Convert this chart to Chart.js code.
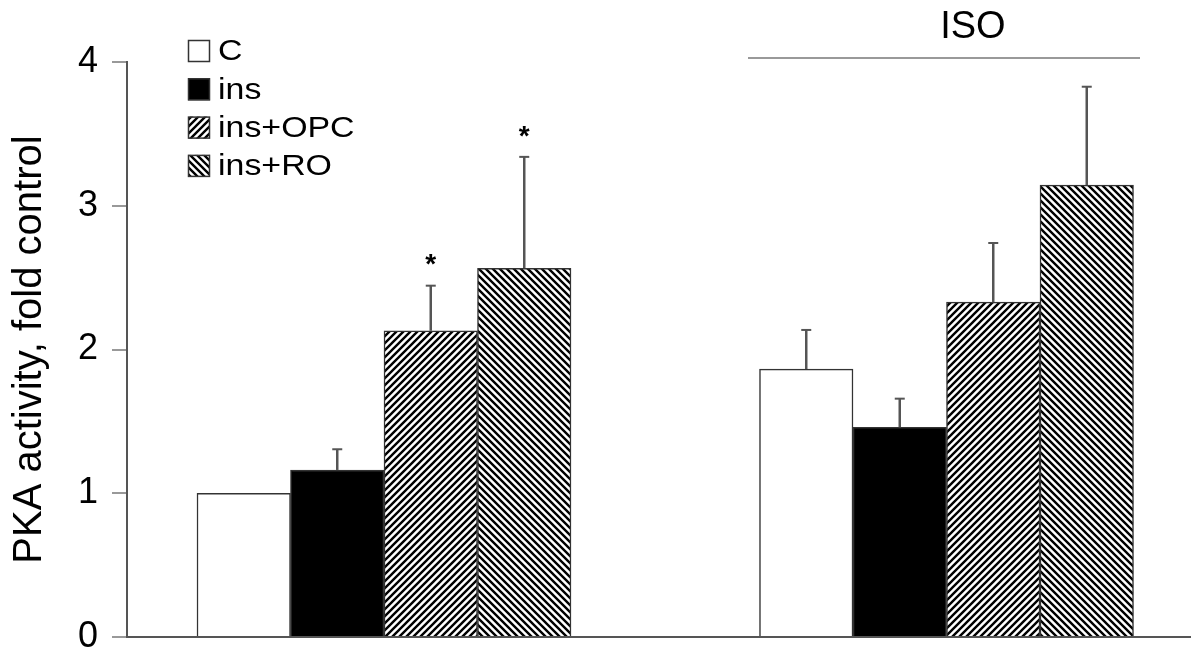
<!DOCTYPE html>
<html>
<head>
<meta charset="utf-8">
<script src="https://cdn.jsdelivr.net/npm/chart.js@4.4.1/dist/chart.umd.min.js"></script>
<style>
  html, body { margin: 0; padding: 0; background: #fff; }
  #wrap { width: 1192px; height: 662px; position: relative; }
</style>
</head>
<body>
<div id="wrap"><canvas id="pka"></canvas></div>
<script>
// datos
const grupos = ['control', 'ISO'];
const posGrupos = [1, 2];
const series = ['C', 'ins', 'ins+OPC', 'ins+RO'];
const valoresC = [1.0, 1.864];
const valoresIns = [1.162, 1.459];
const valoresOPC = [2.13, 2.33];
const valoresRO = [2.565, 3.144];
const errC = [0, 0.272];
const errIns = [0.144, 0.199];
const errOPC = [0.314, 0.411];
const errRO = [0.775, 0.684];
const sigOPC = [true, false];
const sigRO = [true, false];
const ticksY = [0, 1, 2, 3, 4];

const FUENTE = '"Liberation Sans", Arial, sans-serif';
Chart.defaults.font.family = FUENTE;

// patrones rayados
const hacerRayas = (dir) => {
  const p = 7;
  const c = document.createElement('canvas');
  c.width = p; c.height = p;
  const g = c.getContext('2d');
  g.fillStyle = '#fff';
  g.fillRect(0, 0, p, p);
  g.strokeStyle = '#000';
  g.lineWidth = 2.4;
  g.beginPath();
  if (dir === '/') {
    g.moveTo(0, p); g.lineTo(p, 0);
    g.moveTo(-1, 1); g.lineTo(1, -1);
    g.moveTo(p - 1, p + 1); g.lineTo(p + 1, p - 1);
  } else {
    g.moveTo(0, 0); g.lineTo(p, p);
    g.moveTo(-1, p - 1); g.lineTo(1, p + 1);
    g.moveTo(p - 1, -1); g.lineTo(p + 1, 1);
  }
  g.stroke();
  return g.createPattern(c, 'repeat');
};
const rayaOPC = hacerRayas('/');
const rayaRO = hacerRayas('\\');

const armar = (vals) => vals.map((v, i) => ({ x: posGrupos[i], y: v }));

const datasets = [
  { label: series[0], data: armar(valoresC), backgroundColor: '#fff', err: errC, sig: [false, false] },
  { label: series[1], data: armar(valoresIns), backgroundColor: '#000', err: errIns, sig: [false, false] },
  { label: series[2], data: armar(valoresOPC), backgroundColor: rayaOPC, err: errOPC, sig: sigOPC },
  { label: series[3], data: armar(valoresRO), backgroundColor: rayaRO, err: errRO, sig: sigRO }
].map((d) => Object.assign(d, {
  borderColor: '#333',
  borderWidth: 1.5,
  barThickness: 93.5
}));

// barras de error (solo hacia arriba) y asteriscos
const errorBars = {
  id: 'errorBars',
  afterDatasetsDraw(chart) {
    const ctx = chart.ctx;
    const y = chart.scales.y;
    ctx.save();
    chart.data.datasets.forEach((ds, i) => {
      const meta = chart.getDatasetMeta(i);
      meta.data.forEach((bar, j) => {
        const v = ds.data[j].y;
        const e = ds.err[j];
        const top = y.getPixelForValue(v + e);
        if (e > 0) {
          ctx.strokeStyle = '#555';
          ctx.lineWidth = 2.5;
          ctx.beginPath();
          ctx.moveTo(bar.x, y.getPixelForValue(v));
          ctx.lineTo(bar.x, top);
          ctx.stroke();
          ctx.lineWidth = 2;
          ctx.beginPath();
          ctx.moveTo(bar.x - 5, top);
          ctx.lineTo(bar.x + 5, top);
          ctx.stroke();
        }
        if (ds.sig[j]) {
          ctx.fillStyle = '#000';
          ctx.font = 'bold 28px ' + FUENTE;
          ctx.textAlign = 'center';
          ctx.textBaseline = 'middle';
          ctx.fillText('*', bar.x, top - 20);
        }
      });
    });
    ctx.restore();
  }
};

// leyenda dentro del area y linea de ISO
const extras = {
  id: 'extras',
  afterDraw(chart) {
    const ctx = chart.ctx;
    const x = chart.scales.x;
    ctx.save();
    chart.data.datasets.forEach((ds, i) => {
      const cy = 51 + i * 38.3;
      ctx.fillStyle = ds.backgroundColor;
      ctx.fillRect(188, cy - 11, 22, 22);
      ctx.strokeStyle = '#333';
      ctx.lineWidth = 1.5;
      ctx.strokeRect(188.5, cy - 10.5, 21, 21);
      ctx.save();
      ctx.translate(218, cy + 1);
      ctx.scale(1.13, 1);
      ctx.fillStyle = '#000';
      ctx.font = '30px ' + FUENTE;
      ctx.textAlign = 'left';
      ctx.textBaseline = 'middle';
      ctx.fillText(ds.label, 0, 0);
      ctx.restore();
    });
    // ISO
    const x0 = x.getPixelForValue(1.6471);
    const x1 = x.getPixelForValue(2.344);
    ctx.strokeStyle = '#777';
    ctx.lineWidth = 1.5;
    ctx.beginPath();
    ctx.moveTo(x0, 58);
    ctx.lineTo(x1, 58);
    ctx.stroke();
    ctx.fillStyle = '#000';
    ctx.font = '38px ' + FUENTE;
    ctx.textAlign = 'center';
    ctx.textBaseline = 'middle';
    ctx.fillText(grupos[1], x.getPixelForValue(2.047), 28);
    ctx.restore();
  }
};

new Chart(document.getElementById('pka'), {
  type: 'bar',
  data: { datasets },
  options: {
    responsive: true,
    maintainAspectRatio: false,
    animation: false,
    layout: { padding: { top: 62, right: 2, bottom: 25, left: 0 } },
    plugins: { legend: { display: false }, tooltip: { enabled: false } },
    scales: {
      x: {
        type: 'linear',
        offset: false,
        min: 0.54311,
        max: 2.43289,
        ticks: { display: false },
        grid: { display: false, offset: false },
        border: { display: true, color: '#555', width: 2 },
        afterBuildTicks: (s) => { s.ticks = posGrupos.map((v) => ({ value: v })); },
        afterFit: (s) => { s.height = 0; s.paddingLeft = 0; s.paddingRight = 0; }
      },
      y: {
        min: ticksY[0],
        max: ticksY[ticksY.length - 1],
        ticks: { stepSize: 1, color: '#000', font: { size: 36 }, padding: 14 },
        grid: { drawOnChartArea: false, tickLength: 15, color: '#999', lineWidth: 2 },
        border: { color: '#555', width: 2 },
        title: {
          display: true,
          text: 'PKA activity, fold control',
          color: '#000',
          font: { size: 40 },
          padding: { top: 6, bottom: 0 }
        },
        afterFit: (s) => { s.width = 127; s.paddingTop = 0; s.paddingBottom = 0; }
      }
    }
  },
  plugins: [errorBars, extras]
});
</script>
</body>
</html>
